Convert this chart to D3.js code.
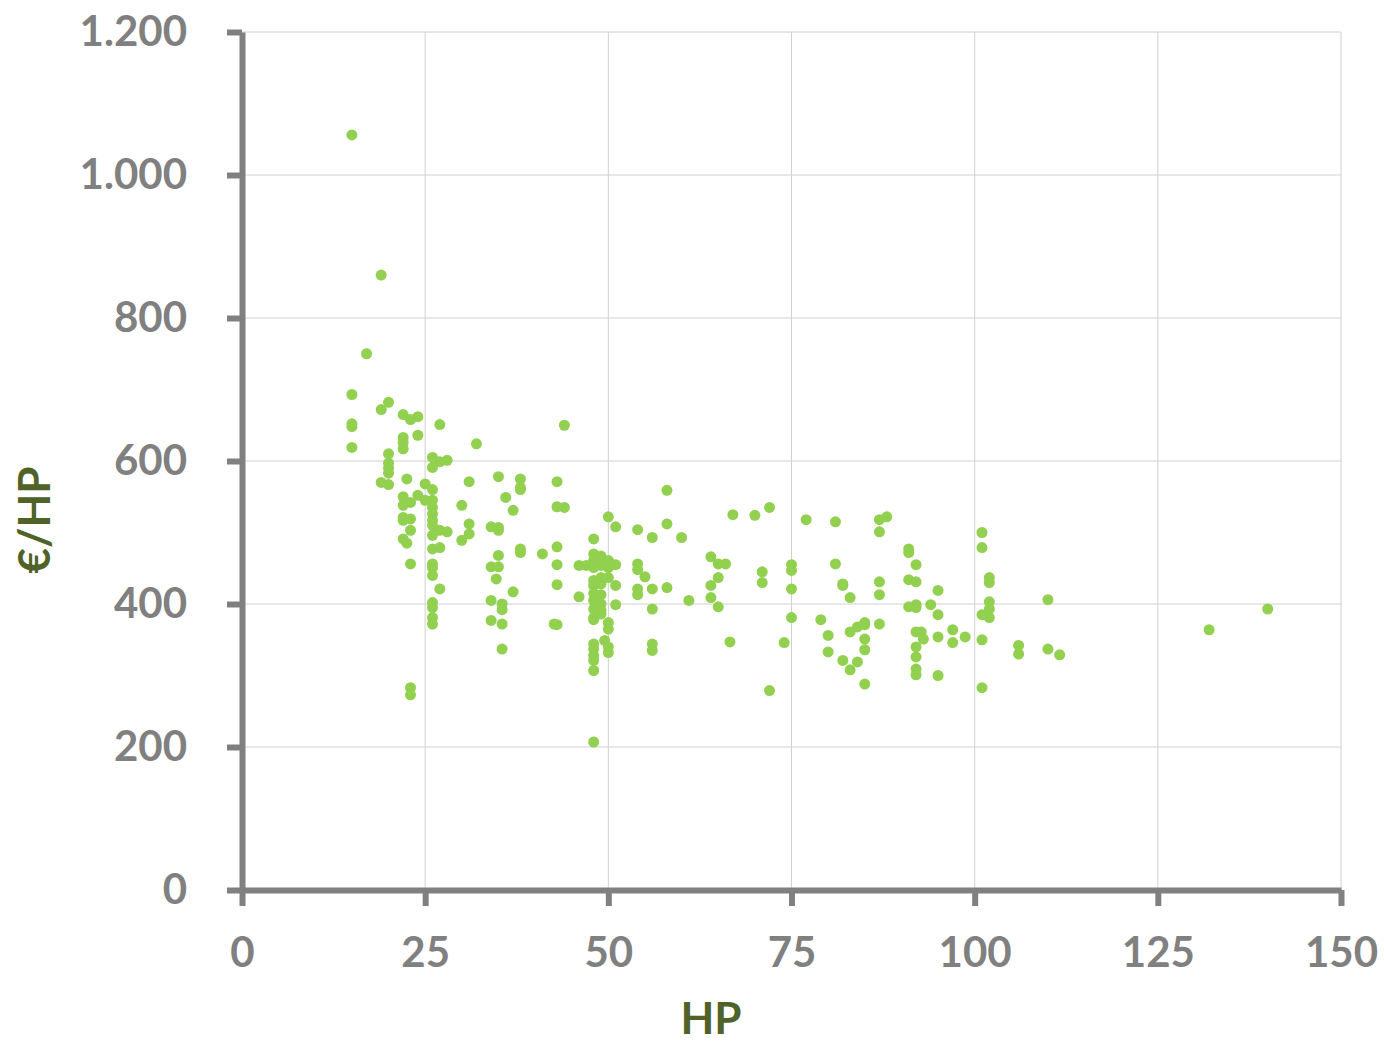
<!DOCTYPE html>
<html>
<head>
<meta charset="utf-8">
<script src="https://cdn.jsdelivr.net/npm/d3@7"></script>
<style>
  body { margin: 0; background: #fff; }
  text { font-family: Lato, "Open Sans", sans-serif; font-weight: bold; }
</style>
</head>
<body>
<svg id="chart" width="1384" height="1045"></svg>
<script>
// horse power of each machine (one line per column of dots)
const hp = [
  15, 15, 15, 15, 15,
  17,
  19, 19, 19,
  20, 20, 20, 20, 20, 20,
  22, 22, 22, 22, 22, 22, 22, 22, 22,
  22.5, 22.5,
  23, 23, 23, 23, 23, 23, 23,
  24, 24, 24,
  25, 25,
  26, 26, 26, 26, 26, 26, 26, 26, 26, 26, 26, 26, 26, 26, 26, 26, 26,
  27, 27, 27, 27, 27,
  28, 28,
  30, 30,
  31, 31, 31,
  32,
  34, 34, 34, 34,
  34.7,
  35, 35, 35, 35, 35,
  35.5, 35.5, 35.5, 35.5,
  36,
  37, 37,
  38, 38, 38, 38, 38,
  41,
  42.6,
  43, 43, 43, 43, 43, 43,
  44, 44,
  46, 46,
  47,
  48, 48, 48, 48, 48, 48, 48, 48, 48, 48, 48, 48, 48, 48, 48, 48, 48,
  49, 49, 49, 49, 49, 49, 49, 49,
  49.5,
  50, 50, 50, 50, 50, 50, 50, 50,
  51, 51, 51, 51,
  54, 54, 54, 54, 54,
  55,
  56, 56, 56, 56, 56,
  58, 58, 58,
  60,
  61,
  64, 64, 64,
  65, 65, 65,
  66,
  66.6,
  67,
  70,
  71, 71,
  72, 72,
  74,
  75, 75, 75, 75,
  77,
  79,
  80, 80,
  81, 81,
  82, 82, 82,
  83, 83, 83,
  84, 84,
  85, 85, 85, 85, 85,
  87, 87, 87, 87, 87,
  88,
  91, 91, 91, 91,
  92, 92, 92, 92, 92, 92, 92, 92, 92,
  92.7,
  93,
  94,
  95, 95, 95, 95,
  97, 97,
  98.7,
  101, 101, 101, 101, 101,
  102, 102, 102, 102, 102,
  106, 106,
  110, 110,
  111.6,
  132,
  140
];

// price per HP in euro, same order as hp
const eurPerHp = [
  1056, 693, 652, 648, 619,
  750,
  860, 672, 570,
  682, 610, 597, 590, 583, 567,
  665, 633, 626, 617, 550, 538, 521, 517, 491,
  575, 485,
  658, 542, 519, 503, 456, 283, 273,
  662, 636, 552,
  568, 545,
  605, 591, 560, 545, 535, 526, 517, 510, 496, 477, 456, 451, 440, 402, 395, 381, 372,
  651, 599, 503, 479, 421,
  601, 501,
  538, 489,
  571, 512, 498,
  624,
  508, 452, 405, 377,
  435,
  578, 507, 503, 468, 452,
  400, 392, 372, 337,
  549,
  531, 417,
  575, 563, 560, 477, 472,
  470,
  372,
  571, 536, 480, 455, 427, 371,
  650, 535,
  454, 410,
  454,
  491, 470, 461, 451, 433, 426, 415, 405, 393, 381, 378, 344, 337, 328, 321, 307, 207,
  467, 454, 437, 428, 413, 400, 391, 386,
  349,
  522, 461, 451, 437, 374, 365, 340, 332,
  508, 455, 426, 399,
  504, 456, 448, 421, 413,
  438,
  493, 421, 393, 344, 335,
  559, 512, 423,
  493,
  405,
  466, 426, 409,
  456, 437, 396,
  456,
  347,
  525,
  524,
  445, 430,
  535, 279,
  346,
  455, 447, 421, 381,
  518,
  378,
  356, 333,
  515, 456,
  428, 426, 321,
  409, 361, 308,
  368, 319,
  374, 371, 351, 336, 288,
  518, 501, 431, 413, 372,
  522,
  477, 472, 434, 396,
  455, 431, 399, 395, 361, 340, 326, 309, 301,
  361,
  351,
  399,
  419, 385, 354, 300,
  364, 346,
  354,
  500, 479, 385, 350, 283,
  437, 430, 403, 393, 381,
  342, 330,
  406, 337,
  329,
  364,
  393
];

const xTicks = [0, 25, 50, 75, 100, 125, 150];
const yTicks = [0, 200, 400, 600, 800, 1000, 1200];
const xTitle = 'HP';
const yTitle = '€/HP';

const axisGray = '#808080';
const titleGreen = '#4f6228';
const dotGreen = '#92d050';
const gridGray = '#d0d0d0';

const margin = { top: 32, left: 242, right: 43, bottom: 155 };
const svg = d3.select('#chart');
const width = +svg.attr('width') - margin.left - margin.right;
const height = +svg.attr('height') - margin.top - margin.bottom;

const x = d3.scaleLinear().domain([0, 150]).range([0, width]);
const y = d3.scaleLinear().domain([0, 1200]).range([height, 0]);

// dot as thousands separator, like the original
const fmt = d3.formatLocale({ decimal: ',', thousands: '.', grouping: [3], currency: ['', '€'] }).format(',');

const g = svg.append('g').attr('transform', `translate(${margin.left},${margin.top})`);

// gridlines
g.append('g')
  .selectAll('line')
  .data(yTicks.slice(1))
  .join('line')
  .attr('x1', 0).attr('x2', width)
  .attr('y1', d => y(d)).attr('y2', d => y(d))
  .attr('stroke', gridGray).attr('stroke-width', 1);

g.append('g')
  .selectAll('line')
  .data(xTicks.slice(1))
  .join('line')
  .attr('x1', d => x(d)).attr('x2', d => x(d))
  .attr('y1', 0).attr('y2', height)
  .attr('stroke', gridGray).attr('stroke-width', 1);

// dots
const data = hp.map((h, i) => ({ hp: h, val: eurPerHp[i] }));
g.append('g')
  .selectAll('circle')
  .data(data)
  .join('circle')
  .attr('cx', d => x(d.hp))
  .attr('cy', d => y(d.val))
  .attr('r', 5.5)
  .attr('fill', dotGreen);

// axes
const xAxis = g.append('g')
  .attr('transform', `translate(0,${height})`)
  .call(d3.axisBottom(x).tickValues(xTicks).tickSize(16).tickSizeOuter(0).tickPadding(31).tickFormat(fmt));

const yAxis = g.append('g')
  .call(d3.axisLeft(y).tickValues(yTicks).tickSize(15).tickSizeOuter(0).tickPadding(40).tickFormat(fmt));

[xAxis, yAxis].forEach(ax => {
  ax.select('.domain').attr('stroke', axisGray).attr('stroke-width', 6);
  ax.selectAll('.tick line').attr('stroke', axisGray).attr('stroke-width', 6);
  ax.selectAll('.tick text')
    .attr('fill', axisGray)
    .style('font-size', '42px');
});

// axis titles
svg.append('text')
  .attr('x', 711)
  .attr('y', 1034)
  .attr('text-anchor', 'middle')
  .attr('fill', titleGreen)
  .style('font-size', '44px')
  .text(xTitle);

svg.append('text')
  .attr('transform', 'translate(50,520) rotate(-90)')
  .attr('text-anchor', 'middle')
  .attr('fill', titleGreen)
  .style('font-size', '44px')
  .text(yTitle);
</script>
</body>
</html>
